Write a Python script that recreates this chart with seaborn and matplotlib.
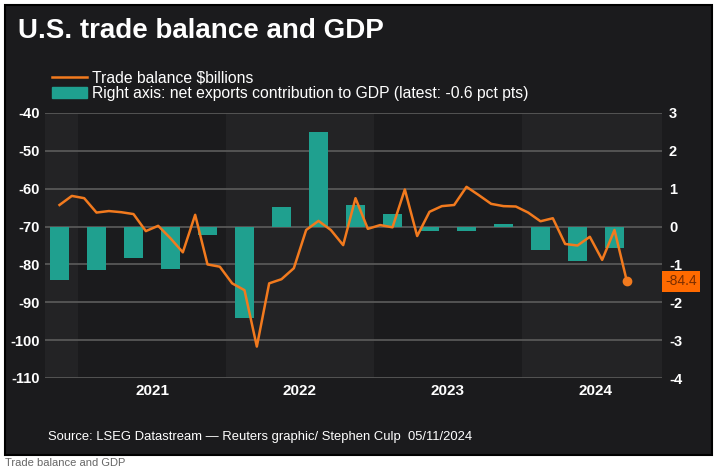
import numpy as np
import pandas as pd
import seaborn as sns
import matplotlib.pyplot as plt
from matplotlib.lines import Line2D
from matplotlib.patches import Patch, Rectangle
import matplotlib.transforms as mtransforms

# monthly trade balance, $ billions (Nov 2020 - Sep 2024)
months = pd.period_range("2020-11", "2024-09", freq="M")
trade_balance = [
    -64.3, -61.9,
    -62.5, -66.3, -65.9, -66.2, -66.7, -71.2, -69.8, -73.1, -76.8, -66.9, -80.0, -80.6,
    -85.0, -86.8, -101.7, -85.0, -83.9, -81.0, -70.9, -68.5, -70.9, -74.9, -62.5, -70.6,
    -69.6, -70.2, -60.2, -72.5, -66.1, -64.6, -64.3, -59.5, -61.7, -64.0, -64.6, -64.7,
    -66.3, -68.6, -67.8, -74.6, -75.0, -72.7, -78.8, -70.9, -84.4,
]

# quarterly net exports contribution to GDP, pct pts (Q4 2020 - Q3 2024)
quarters = pd.period_range("2020Q4", "2024Q3", freq="Q")
net_exports = [
    -1.40, -1.14, -0.83, -1.12, -0.21, -2.41, 0.51, 2.49,
    0.57, 0.32, -0.11, -0.11, 0.07, -0.62, -0.90, -0.56,
]

years = [2021, 2022, 2023, 2024]
left_ticks = [-40, -50, -60, -70, -80, -90, -100, -110]
right_ticks = [3, 2, 1, 0, -1, -2, -3, -4]

x_month = [p.year + (p.month - 0.5) / 12 for p in months]
x_quarter = [p.year + (p.quarter - 0.5) / 4 for p in quarters]

plt.rcParams["font.family"] = ["Liberation Sans", "DejaVu Sans"]
plt.rcParams["axes.unicode_minus"] = False

orange = "#f27a1e"
teal = "#1fa08f"
panel = "#1b1b1d"
band = "#232325"
x0, x1 = 2020.777, 2024.946
tick_font = ["Liberation Sans Narrow", "Liberation Sans", "DejaVu Sans"]

fig = plt.figure(figsize=(7.26, 4.72), dpi=100, facecolor="white")
fig.patches.append(Rectangle((5 / 726, 1 - 455 / 472), 707 / 726, 450 / 472,
                             transform=fig.transFigure, facecolor=panel,
                             edgecolor="black", lw=1.5, zorder=-5))

ax = fig.add_axes([45 / 726, 1 - 378 / 472, 617 / 726, 265 / 472])
ax.patch.set_alpha(0)

# alternating year bands
for y in [2020, 2022, 2024]:
    ax.axvspan(max(y, x0), min(y + 1, x1), color=band, lw=0, zorder=0.1)

sns.barplot(x=x_quarter, y=net_exports, native_scale=True, ax=ax,
            color=teal, saturation=1, width=0.51, zorder=2)
ax.set_ylim(-4, 3)
ax.set_yticks(right_ticks)
ax.set_axisbelow(True)
ax.grid(axis="y", color="#5c5c5c", lw=1.2)
ax.grid(axis="x", visible=False)

ax2 = ax.twinx()
sns.lineplot(x=x_month, y=trade_balance, ax=ax2, color=orange, lw=1.8)
ax2.plot(x_month[-1], trade_balance[-1], "o", color=orange, ms=6)
ax2.set_ylim(-110, -40)
ax2.set_yticks(left_ticks)

# line axis labelled on the left, bar axis on the right
ax.yaxis.tick_right()
ax2.yaxis.tick_left()

ax.set_xlim(x0, x1)
ax.set_xticks([y + 0.5 for y in years])
ax.set_xticklabels([str(y) for y in years])

for a in (ax, ax2):
    for s in a.spines.values():
        s.set_visible(False)
    a.tick_params(length=0, colors="white", labelsize=10.5)
    for lab in a.get_xticklabels() + a.get_yticklabels():
        lab.set_fontweight("bold")
        lab.set_family(tick_font)
    a.set_xlabel("")
    a.set_ylabel("")
ax.tick_params(axis="x", pad=4, labelsize=11)
ax.tick_params(axis="y", pad=5)
ax2.tick_params(axis="y", pad=4)

# latest value tag
trans = mtransforms.blended_transform_factory(ax2.transAxes, ax2.transData)
ax2.text(1.005, trade_balance[-1], f"{trade_balance[-1]:.1f}", transform=trans,
         ha="left", va="center", fontsize=10, color="#7a2e00", family=tick_font,
         bbox=dict(boxstyle="square,pad=0.25", fc="#ff6a00", ec="none"))

handles = [Line2D([], [], color=orange, lw=1.8), Patch(color=teal)]
labels = ["Trade balance $billions",
          "Right axis: net exports contribution to GDP (latest: -0.6 pct pts)"]
fig.legend(handles, labels, loc="upper left", bbox_to_anchor=(46 / 726, 1 - 64 / 472),
           frameon=False, labelcolor="white", fontsize=11.3, handlelength=2.2,
           labelspacing=0.05, borderaxespad=0, handletextpad=0.3)

fig.text(18 / 726, 1 - 31 / 472, "U.S. trade balance and GDP", color="white",
         fontsize=20, fontweight="bold", va="center", ha="left")
fig.text(48 / 726, 1 - 437 / 472,
         "Source: LSEG Datastream \u2014 Reuters graphic/ Stephen Culp  05/11/2024",
         color="white", fontsize=9.4, va="center", ha="left", family=tick_font)
fig.text(5 / 726, 1 - 463 / 472, "Trade balance and GDP", color="#666666",
         fontsize=8, va="center", ha="left", family=tick_font)

fig.savefig("out.png", dpi=100, facecolor="white")
